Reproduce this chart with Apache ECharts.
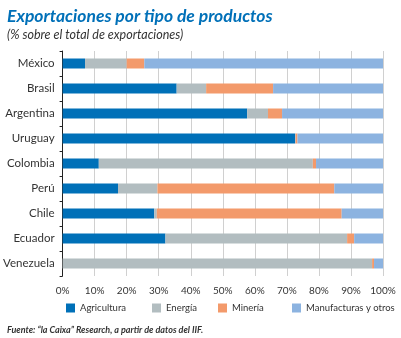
<!DOCTYPE html>
<html><head><meta charset="utf-8">
<script src="https://cdn.jsdelivr.net/npm/echarts@6/dist/echarts.min.js"></script>
<style>html,body{margin:0;padding:0;background:#fff}#c{width:401px;height:338px}</style>
</head><body><div id="c"></div>
<script>
const categories = ['México','Brasil','Argentina','Uruguay','Colombia','Perú','Chile','Ecuador','Venezuela'];
const agricultura = [7.0, 35.6, 57.6, 72.6, 11.3, 17.3, 28.6, 32.1, 0.0];
const energia     = [13.0, 9.2, 6.5, 0.1, 66.8, 12.3, 0.8, 56.7, 96.6];
const mineria     = [5.5, 20.9, 4.4, 0.6, 1.0, 55.2, 57.7, 2.2, 0.6];
const manufacturas= [74.5, 34.3, 31.5, 26.7, 20.9, 15.2, 12.9, 9.0, 2.8];
const xTicks = [0,10,20,30,40,50,60,70,80,90,100];

const FONT = 'Lato, "Open Sans", sans-serif';
const chart = echarts.init(document.getElementById('c'), null, {renderer:'canvas'});
const names = ['Agricultura','Energía','Minería','Manufacturas y otros'];
const colors = ['#0070b8','#b2bdc0','#f39a6b','#8cb3e0'];
const vals = [agricultura, energia, mineria, manufacturas];
const legendLefts = [61, 147, 213, 287];
chart.setOption({
  animation:false,
  textStyle:{fontFamily:FONT},
  title:[
    {text:'Exportaciones por tipo de productos', left:2, top:2,
     textStyle:{fontFamily:FONT,fontSize:17.5,fontWeight:'bold',fontStyle:'italic',color:'#0070b8'}},
    {text:'(% sobre el total de exportaciones)', left:2, top:23,
     textStyle:{fontFamily:FONT,fontSize:12.5,fontWeight:'normal',fontStyle:'italic',color:'#333'}},
    {text:'{b|Fuente:} “la Caixa” Research, a partir de datos del IIF.', left:2, top:321,
     textStyle:{fontFamily:FONT,fontSize:9,fontStyle:'italic',color:'#333',
       rich:{b:{fontFamily:FONT,fontSize:9,fontStyle:'italic',fontWeight:'bold',color:'#333'}}}}
  ],
  legend: names.map((n,i)=>({
    data:[n], top:298, left:legendLefts[i], icon:'rect', itemWidth:9, itemHeight:9, itemGap:0,
    textStyle:{fontFamily:FONT,fontSize:9.5,color:'#333'}
  })),
  grid:{left:59, right:18, top:51, bottom:62},
  xAxis:{
    type:'value', min:0, max:100, interval:10,
    axisLabel:{formatter:'{value}%', fontFamily:FONT, fontSize:10, color:'#333', margin:10},
    axisLine:{show:false}, axisTick:{show:false},
    splitLine:{lineStyle:{color:'#d0d0d0', width:1}}
  },
  yAxis:{
    type:'category', data:categories, inverse:true,
    axisLine:{lineStyle:{color:'#222', width:1}},
    axisTick:{show:true, length:3, inside:false, lineStyle:{color:'#222'}},
    axisLabel:{fontFamily:FONT, fontSize:11.5, color:'#333', margin:8}
  },
  series: names.map((n,i)=>({
    name:n, type:'bar', stack:'t', barWidth:10, data:vals[i],
    itemStyle:{color:colors[i]}
  }))
});
</script></body></html>
